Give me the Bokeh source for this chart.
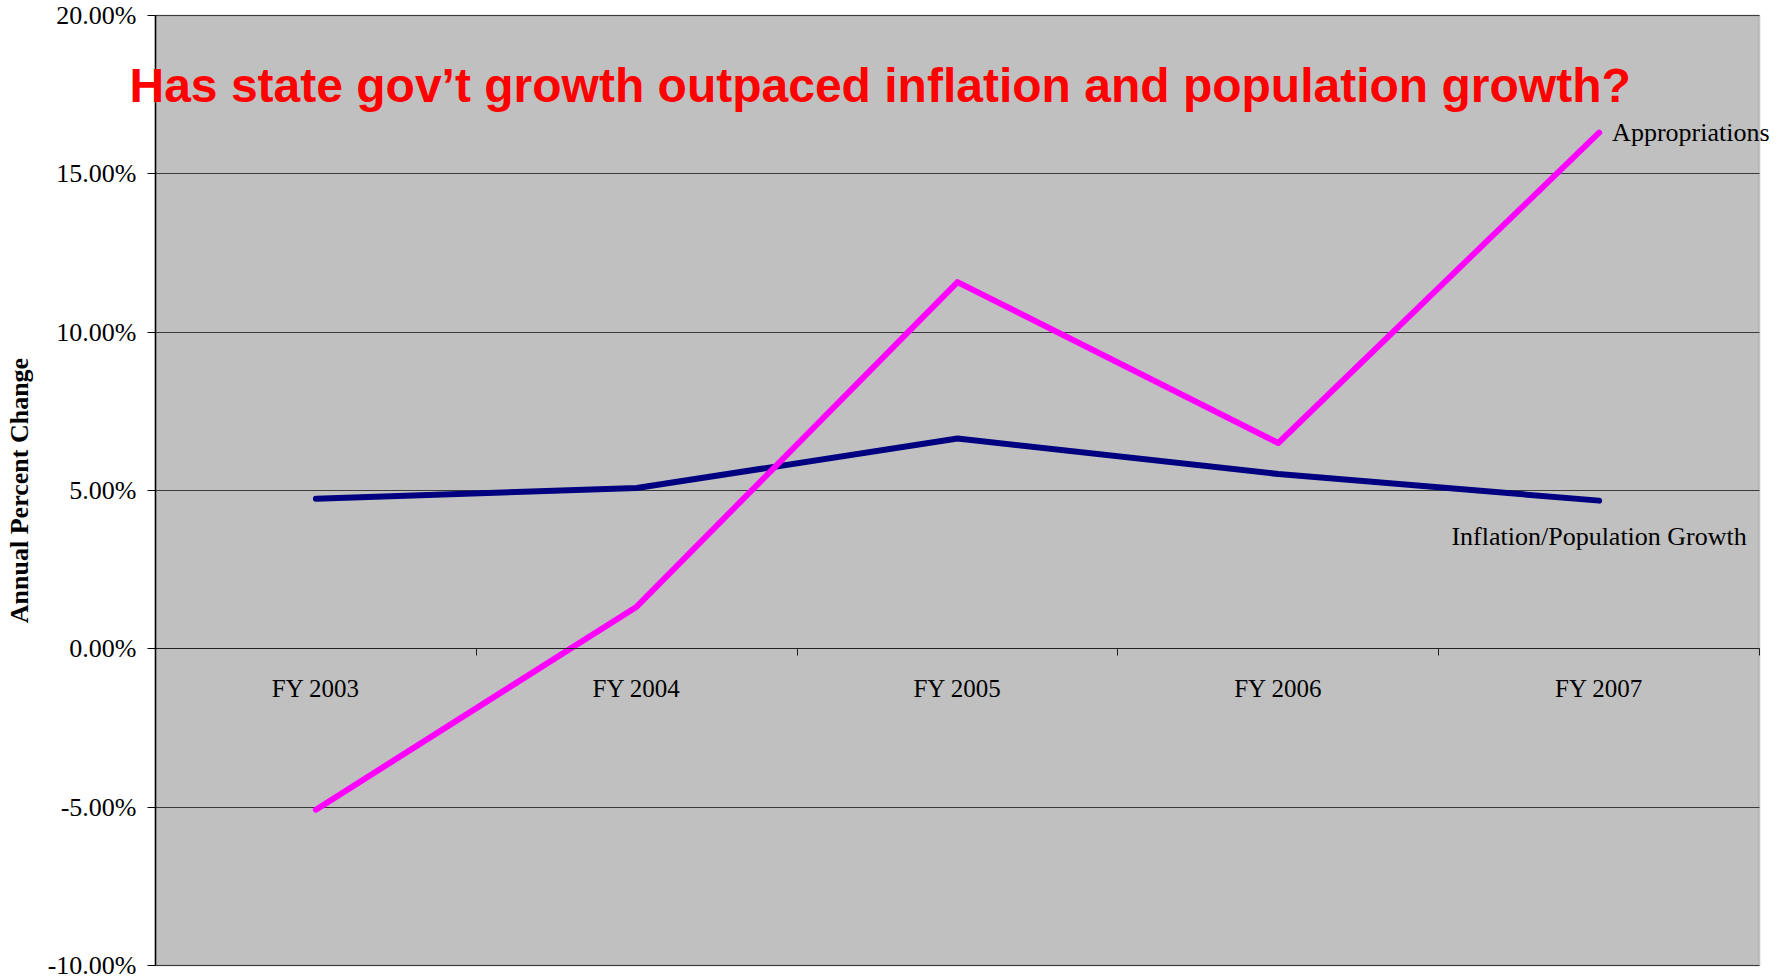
from bokeh.plotting import figure
from bokeh.models import (Range1d, LinearAxis, FixedTicker, BoxAnnotation,
                          SingleIntervalTicker, PrintfTickFormatter, Label)
from bokeh.embed import file_html
from bokeh.resources import INLINE

# ---- data ----
categories = ["FY 2003", "FY 2004", "FY 2005", "FY 2006", "FY 2007"]
appropriations = [-5.08, 1.33, 11.58, 6.50, 16.30]
inflation_population = [4.74, 5.08, 6.64, 5.52, 4.68]
series_names = ["Appropriations", "Inflation/Population Growth"]
title_text = "Has state gov\u2019t growth outpaced inflation and population growth?"
y_title = "Annual Percent Change"
y_min, y_max, y_step = -10, 20, 5

SERIF = "Liberation Serif"

n = len(categories)
xs = [i + 0.5 for i in range(n)]          # category centres
bounds = list(range(n + 1))              # category boundaries

# ---- layout (pixels) ----
W, H = 1792, 980
PL, PR, PT, PB = 155, 1759, 15, 965       # plot-area edges on the canvas
FT, FB = 5, 975                           # frame top / bottom
xu = (PR - PL) / n
yu = (PB - PT) / (y_max - y_min)
x_range = Range1d(-PL / xu, n + (W - PR) / xu)
y_range = Range1d(y_min - (FB - PB) / yu, y_max + (PT - FT) / yu)

p = figure(width=W, height=H, output_backend="svg", toolbar_location=None,
           x_range=x_range, y_range=y_range,
           x_axis_location=None, y_axis_location=None,
           min_border_left=0, min_border_right=0, min_border_top=FT, min_border_bottom=H - FB)
p.background_fill_color = "white"
p.border_fill_color = "white"
p.outline_line_color = None

# plot-area panel
p.add_layout(BoxAnnotation(left=0, right=n, bottom=y_min, top=y_max,
                           fill_color="#C0C0C0", fill_alpha=1.0,
                           line_color="#808080", line_width=2, level="image"))

# y axis at x = 0
yax = LinearAxis(fixed_location=0, bounds=(y_min, y_max),
                 ticker=SingleIntervalTicker(interval=y_step),
                 formatter=PrintfTickFormatter(format="%.2f%%"))
yax.axis_label = y_title
yax.axis_label_text_font = SERIF
yax.axis_label_text_font_style = "bold"
yax.axis_label_text_font_size = "26px"
yax.axis_label_text_color = "black"
yax.axis_label_standoff = 11
yax.major_label_text_font = SERIF
yax.major_label_text_font_size = "26px"
yax.major_label_text_color = "black"
yax.major_label_standoff = 11
yax.major_tick_out = 8
yax.major_tick_in = 0
yax.minor_tick_out = 0
yax.minor_tick_in = 0
yax.axis_line_color = "black"
yax.axis_line_width = 1.5
yax.major_tick_line_color = "black"
p.add_layout(yax, "left")

# grid
p.ygrid.grid_line_color = "#3a3a3a"
p.ygrid.grid_line_width = 1
p.ygrid.ticker = SingleIntervalTicker(interval=y_step)
p.ygrid.bounds = (y_min, y_max)
p.ygrid.cross_bounds = (0, n)
p.xgrid.visible = False

# category x axis at y = 0
xax = LinearAxis(fixed_location=0, bounds=(0, n), ticker=FixedTicker(ticks=xs),
                 major_label_overrides={x: c for x, c in zip(xs, categories)})
xax.major_label_text_font = SERIF
xax.major_label_text_font_size = "25px"
xax.major_label_text_color = "black"
xax.major_label_standoff = 26
xax.major_tick_out = 0
xax.major_tick_in = 0
xax.minor_tick_out = 0
xax.minor_tick_in = 0
xax.axis_line_color = "#222222"
xax.axis_line_width = 1
p.add_layout(xax, "below")

# boundary ticks between categories
bax = LinearAxis(fixed_location=0, bounds=(0, n), ticker=FixedTicker(ticks=bounds),
                 major_label_overrides={b: "" for b in bounds})
bax.major_label_text_font_size = "0px"
bax.major_tick_out = 7
bax.major_tick_in = 0
bax.minor_tick_out = 0
bax.minor_tick_in = 0
bax.axis_line_color = None
bax.major_tick_line_color = "#222222"
p.add_layout(bax, "below")

# lines
p.line(xs, inflation_population, line_color="#000080", line_width=6,
       line_cap="round", line_join="round")
p.line(xs, appropriations, line_color="#FF00FF", line_width=6,
       line_cap="round", line_join="round")

# series labels
p.add_layout(Label(x=xs[-1], y=appropriations[-1], text=series_names[0],
                   x_offset=13, text_baseline="middle", text_align="left",
                   text_font=SERIF, text_font_size="26px", text_color="black"))
p.add_layout(Label(x=xs[-1], y=inflation_population[-1], text=series_names[1],
                   y_offset=-36, text_baseline="middle", text_align="center",
                   text_font=SERIF, text_font_size="26px", text_color="black"))

# title inside plot
p.add_layout(Label(x=(129 - PL) / xu, y=y_max - (84.5 - PT) / yu, text=title_text,
                   text_align="left", text_baseline="middle", text_font="Liberation Sans",
                   text_font_style="bold", text_font_size="48px", text_color="#FF0000"))

open("out.html", "w").write(file_html(p, INLINE))
